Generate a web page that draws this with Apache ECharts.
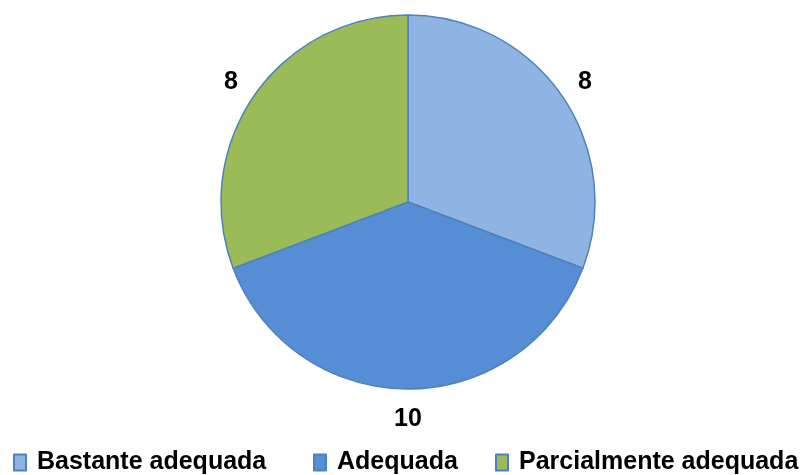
<!DOCTYPE html>
<html>
<head>
<meta charset="utf-8">
<script src="https://cdn.jsdelivr.net/npm/echarts@6/dist/echarts.min.js"></script>
<style>html,body{margin:0;padding:0;background:#fff}#c{width:810px;height:475px}</style>
</head>
<body>
<div id="c"></div>
<script>
const categories = ['Bastante adequada', 'Adequada', 'Parcialmente adequada'];
const values = [8, 10, 8];
const colors = ['#8DB4E2', '#558ED5', '#9BBB59'];

const chart = echarts.init(document.getElementById('c'), null, {renderer: 'canvas'});
const data = categories.map((n, i) => ({name: n, value: values[i], itemStyle: {color: colors[i]}}));
const legendLefts = [13, 313, 495];
const option = {
  animation: false,
  legend: categories.map((n, i) => ({
    data: [n],
    left: legendLefts[i],
    top: 450,
    padding: 0,
    selectedMode: false,
    icon: 'rect',
    itemWidth: 12,
    itemHeight: 16,
    textStyle: {fontFamily: 'Liberation Sans, Arial', fontWeight: 'bold', fontSize: 25, color: '#000', lineHeight: 24, padding: [0, 0, 0, 6]}
  })),
  series: [
    {
      type: 'pie',
      center: [408, 202],
      radius: [0, 187],
      startAngle: 90,
      clockwise: true,
      silent: true,
      label: {show: false},
      labelLine: {show: false},
      itemStyle: {borderColor: '#4F81BD', borderWidth: 1.5},
      emphasis: {disabled: true},
      data: data
    },
    {
      type: 'pie',
      center: [408, 204],
      radius: [202, 222],
      startAngle: 90,
      clockwise: true,
      silent: true,
      legendHoverLink: false,
      itemStyle: {color: 'rgba(0,0,0,0)', borderWidth: 0},
      label: {show: true, position: 'inside', formatter: '{c}', color: '#000', fontFamily: 'Liberation Sans, Arial', fontWeight: 'bold', fontSize: 25},
      labelLine: {show: false},
      emphasis: {disabled: true},
      data: categories.map((n, i) => ({name: n, value: values[i]}))
    }
  ]
};
chart.setOption(option);
</script>
</body>
</html>
